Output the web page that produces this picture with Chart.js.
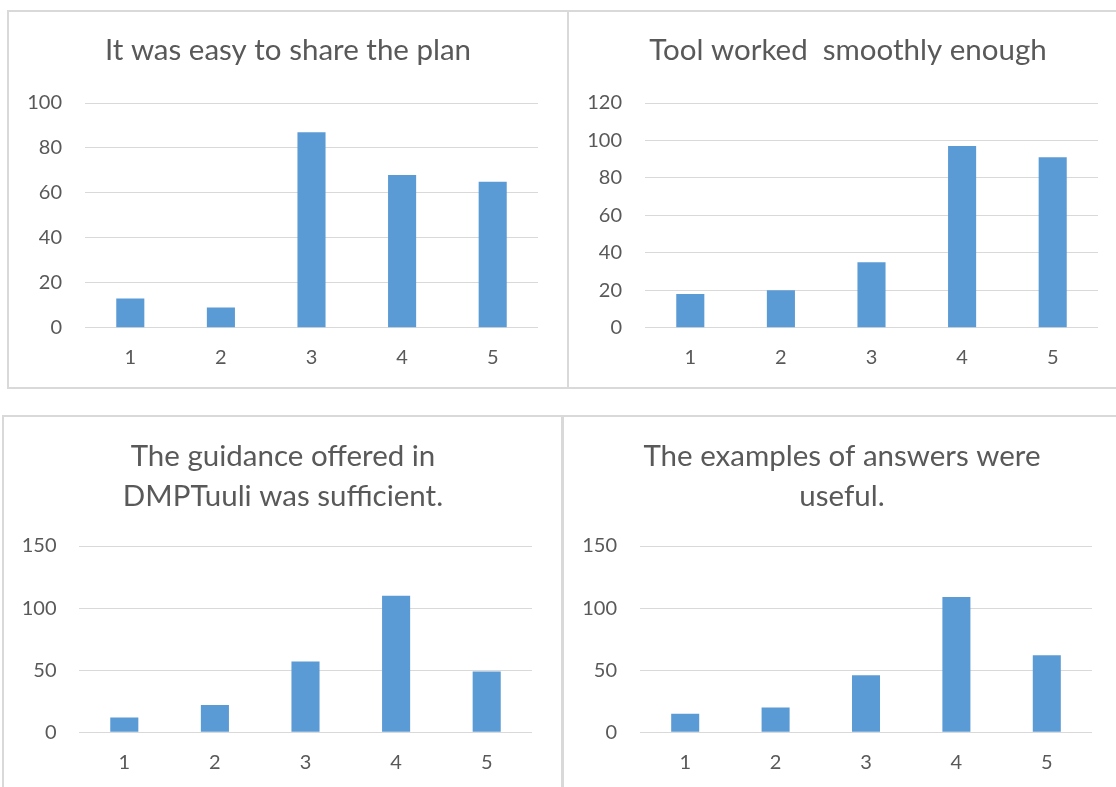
<!DOCTYPE html>
<html>
<head>
<meta charset="utf-8">
<script src="https://cdn.jsdelivr.net/npm/chart.js@4/dist/chart.umd.min.js"></script>
<style>
  html, body { margin: 0; padding: 0; background: #ffffff; width: 1116px; height: 787px; overflow: hidden; }
  .panel { position: absolute; overflow: visible; }
  .panel canvas { position: absolute; left: 0; top: 0; }
  .frame { position: absolute; left: 0; top: 0; right: 0; bottom: 0; border: 2px solid #d9d9d9; pointer-events: none; }
</style>
</head>
<body>
<div class="panel" style="left:7px;top:10px;width:562px;height:379px;"><canvas id="c1" width="562" height="379"></canvas><div class="frame"></div></div>
<div class="panel" style="left:567px;top:10px;width:562px;height:379px;"><canvas id="c2" width="562" height="379"></canvas><div class="frame"></div></div>
<div class="panel" style="left:2px;top:415px;width:562px;height:380px;"><canvas id="c3" width="562" height="372"></canvas><div class="frame"></div></div>
<div class="panel" style="left:561px;top:415px;width:562px;height:380px;"><canvas id="c4" width="562" height="372"></canvas><div class="frame"></div></div>
<script>
// ---- data ----
const categories = ['1', '2', '3', '4', '5'];

const titleShare = 'It was easy to share the plan';
const titleSmooth = 'Tool worked  smoothly enough';
const titleGuidance = ['The guidance offered in', 'DMPTuuli was sufficient.'];
const titleExamples = ['The examples of answers were', 'useful.'];

const valuesShare = [13, 9, 87, 68, 65];
const valuesSmooth = [18, 20, 35, 97, 91];
const valuesGuidance = [12, 22, 57, 110, 49];
const valuesExamples = [15, 20, 46, 109, 62];

const ticksShare = [0, 20, 40, 60, 80, 100];
const ticksSmooth = [0, 20, 40, 60, 80, 100, 120];
const ticksGuidance = [0, 50, 100, 150];
const ticksExamples = [0, 50, 100, 150];

// ---- styling ----
const FONT = 'Lato, "Open Sans", sans-serif';
const TEXT = '#595959';
const BAR = '#5b9bd5';
const GRID = '#d9d9d9';

function makeChart(id, title, values, yTicks, L) {
  new Chart(document.getElementById(id), {
    type: 'bar',
    data: {
      labels: categories,
      datasets: [{
        data: values,
        backgroundColor: BAR,
        borderWidth: 0,
        barPercentage: 0.31,
        categoryPercentage: 1
      }]
    },
    options: {
      responsive: false,
      animation: false,
      devicePixelRatio: 1,
      layout: { padding: 0 },
      plugins: {
        legend: { display: false },
        tooltip: { enabled: false },
        title: {
          display: true,
          text: title,
          color: TEXT,
          font: { family: FONT, size: 29.5, weight: 'normal', lineHeight: '40px' },
          padding: { top: L.tTop, bottom: L.tBottom }
        }
      },
      scales: {
        x: {
          grid: { display: false, drawTicks: false },
          border: { display: false },
          ticks: { color: TEXT, font: { family: FONT, size: 20 }, padding: L.xPad, maxRotation: 0, autoSkip: false },
          afterFit: s => { s.height = L.xH; }
        },
        y: {
          min: yTicks[0],
          max: yTicks[yTicks.length - 1],
          afterBuildTicks: s => { s.ticks = yTicks.map(v => ({ value: v })); },
          grid: { color: GRID, lineWidth: 1, drawTicks: false },
          border: { display: false },
          ticks: { color: TEXT, font: { family: FONT, size: 20 }, padding: L.yPad },
          afterFit: s => { s.width = L.yW; }
        },
        yR: {
          position: 'right',
          grid: { display: false, drawTicks: false },
          border: { display: false },
          ticks: { display: false },
          afterFit: s => { s.width = L.rW; }
        }
      }
    }
  });
}

makeChart('c1', titleShare, valuesShare, ticksShare,
  { tTop: 20, tBottom: 33, xH: 61.3, xPad: 17.5, yW: 78, yPad: 23, rW: 31 });
makeChart('c2', titleSmooth, valuesSmooth, ticksSmooth,
  { tTop: 20, tBottom: 33, xH: 61.3, xPad: 17.5, yW: 78, yPad: 23, rW: 31 });
makeChart('c3', titleGuidance, valuesGuidance, ticksGuidance,
  { tTop: 21, tBottom: 30, xH: 54.7, xPad: 17.9, yW: 77, yPad: 22.5, rW: 32 });
makeChart('c4', titleExamples, valuesExamples, ticksExamples,
  { tTop: 21, tBottom: 30, xH: 54.7, xPad: 17.9, yW: 79, yPad: 23, rW: 31 });
</script>
</body>
</html>
